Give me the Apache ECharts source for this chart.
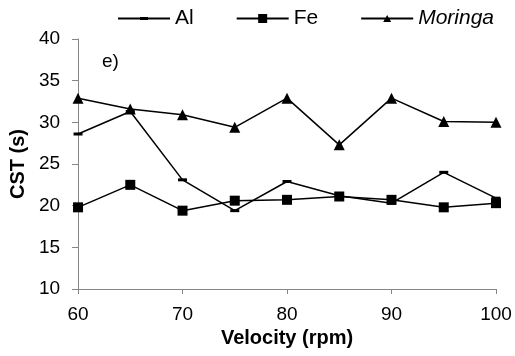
<!DOCTYPE html>
<html>
<head>
<meta charset="utf-8">
<script src="https://cdn.jsdelivr.net/npm/echarts@6/dist/echarts.min.js"></script>
<style>
  html, body { margin: 0; padding: 0; background: #fff; }
  #chart { width: 515px; height: 356px; }
</style>
</head>
<body>
<div id="chart"></div>
<script>
const velocity = [60, 65, 70, 75, 80, 85, 90, 95, 100];
const alValues = [28.6, 31.3, 23.1, 19.4, 22.9, 21.2, 20.3, 24.0, 20.9];
const feValues = [19.8, 22.5, 19.4, 20.6, 20.7, 21.1, 20.7, 19.8, 20.3];
const moringaValues = [32.9, 31.6, 30.9, 29.4, 32.9, 27.3, 32.9, 30.1, 30.0];

const font = 'Liberation Sans, Arial, sans-serif';
const axisGray = '#868686';

const pairs = (vals) => velocity.map((v, i) => [v, vals[i]]);

// legend icons: line + marker in a 52x10 box (M0,0 / M52,10 pin the bounds)
const legendLine = 'M0,0 M52,10 M0,4.1 H52 V5.9 H0 Z';
const legendIcons = {
    Al: 'path://' + legendLine + ' M22,3.4 H30 V6.6 H22 Z',
    Fe: 'path://' + legendLine + ' M21.5,0.5 H30.5 V9.5 H21.5 Z',
    Moringa: 'path://' + legendLine + ' M26,1.5 L30,8.5 L22,8.5 Z'
};

const chart = echarts.init(document.getElementById('chart'));

const lineSeries = (name, vals, symbol, size) => ({
    name: name,
    type: 'line',
    data: pairs(vals),
    symbol: symbol,
    symbolSize: size,
    showAllSymbol: true,
    lineStyle: { color: '#000', width: 1.5 },
    itemStyle: { color: '#000' },
    animation: false
});

chart.setOption({
    textStyle: { fontFamily: font },
    legend: {
        top: 3,
        left: 113,
        itemWidth: 52,
        itemHeight: 10,
        itemGap: 43,
        itemStyle: { borderWidth: 0 },
        textStyle: {
            fontFamily: font,
            fontSize: 21,
            color: '#000',
            rich: { i: { fontStyle: 'italic', fontSize: 21, fontFamily: font, color: '#000' } }
        },
        formatter: (name) => name === 'Moringa' ? '{i|Moringa}' : name,
        data: ['Al', 'Fe', 'Moringa'].map(n => ({ name: n, icon: legendIcons[n] }))
    },
    grid: {
        left: 76,
        right: 19,
        top: 39,
        bottom: 67
    },
    xAxis: {
        type: 'value',
        min: 60,
        max: 100,
        interval: 10,
        name: 'Velocity (rpm)',
        nameLocation: 'middle',
        nameGap: 38,
        nameTextStyle: { fontFamily: font, fontSize: 20, fontWeight: 'bold', color: '#000' },
        axisLine: { lineStyle: { color: axisGray, width: 1 } },
        axisTick: { show: true, length: 5, lineStyle: { color: axisGray } },
        axisLabel: { fontFamily: font, fontSize: 19, color: '#000', margin: 16 },
        splitLine: { show: false }
    },
    yAxis: {
        type: 'value',
        min: 10,
        max: 40,
        interval: 5,
        name: 'CST (s)',
        nameLocation: 'middle',
        nameGap: 46,
        nameTextStyle: { fontFamily: font, fontSize: 20, fontWeight: 'bold', color: '#000' },
        axisLine: { show: true, lineStyle: { color: axisGray, width: 1 } },
        axisTick: { show: true, length: 6, lineStyle: { color: axisGray } },
        axisLabel: { fontFamily: font, fontSize: 19, color: '#000', margin: 18 },
        splitLine: { show: false }
    },
    graphic: [{
        type: 'text',
        left: 102,
        top: 52,
        style: { text: 'e)', font: '19px ' + font, fill: '#000' }
    }],
    series: [
        lineSeries('Al', alValues, 'rect', [9, 3]),
        lineSeries('Fe', feValues, 'rect', 10),
        lineSeries('Moringa', moringaValues, 'triangle', 11)
    ]
});
</script>
</body>
</html>
